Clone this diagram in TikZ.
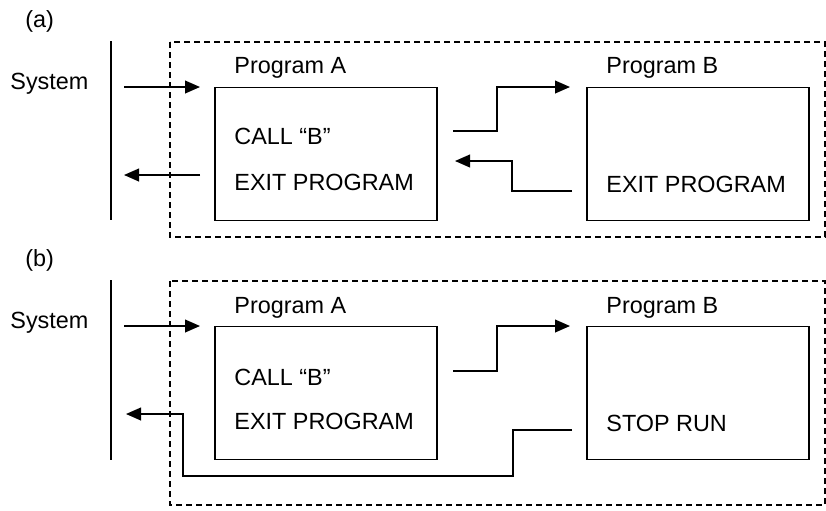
\documentclass[tikz,border=0pt]{standalone}
\usepackage{fontspec}
\setmainfont{Liberation Sans}
\usetikzlibrary{arrows.meta}

\begin{document}
\begin{tikzpicture}[x=0.5pt, y=-0.5pt,
    txt/.style={anchor=base west, inner sep=0pt, font=\fontsize{11.7}{14}\selectfont},
    prog/.style={draw, line width=0.75pt, minimum width=111pt, minimum height=66.5pt, inner sep=0pt},
    flow/.style={line width=0.75pt, -{Triangle[length=7.5pt,width=6.4pt]}},
    sysline/.style={line width=0.8pt},
    frame/.style={line width=0.65pt, dash pattern=on 3.2pt off 1.8pt}]
  \useasboundingbox (0,0) rectangle (826,510);

  % (a) program B returns with EXIT PROGRAM
  \node[txt] (tagA) at (25,27) {(a)};
  \node[txt] (sysA) at (10,89) {System};
  \draw[sysline] (111,41) coordinate (lineAtop) -- (111,220) coordinate (lineAbot);
  \draw[frame] (170,42) rectangle (825,237);
  \node[prog] (progA1) at (326,154) {};
  \node[prog] (progB1) at (698,154) {};
  \node[txt] (nameA1) at (234,73) {Program A};
  \node[txt] (nameB1) at (606,73) {Program B};
  \node[txt] (callA1) at (234,144) {CALL “B”};
  \node[txt] (exitA1) at (234,190) {EXIT PROGRAM};
  \node[txt] (exitB1) at (606,192) {EXIT PROGRAM};
  \coordinate (inA0) at (124,87);    \coordinate (inA1) at (200,87);
  \coordinate (outA0) at (200,175);  \coordinate (outA1) at (124,175);
  \coordinate (goA0) at (453,131);   \coordinate (goA1) at (570,87);
  \coordinate (backA0) at (572,191); \coordinate (backA1) at (455,161);
  \draw[flow] (inA0) -- (inA1);
  \draw[flow] (outA0) -- (outA1);
  \draw[flow] (goA0) -- (497,131) |- (goA1);
  \draw[flow] (backA0) -- (512,191) |- (backA1);

  % (b) program B ends the run with STOP RUN
  \node[txt] (tagB) at (25,266) {(b)};
  \node[txt] (sysB) at (10,328) {System};
  \draw[sysline] (111,280) coordinate (lineBtop) -- (111,460) coordinate (lineBbot);
  \draw[frame] (170,281) rectangle (825,505);
  \node[prog] (progA2) at (326,393) {};
  \node[prog] (progB2) at (698,393) {};
  \node[txt] (nameA2) at (234,313) {Program A};
  \node[txt] (nameB2) at (606,313) {Program B};
  \node[txt] (callA2) at (234,385) {CALL “B”};
  \node[txt] (exitA2) at (234,429) {EXIT PROGRAM};
  \node[txt] (stopB2) at (606,431) {STOP RUN};
  \coordinate (inB0) at (124,326);   \coordinate (inB1) at (200,326);
  \coordinate (goB0) at (453,371);   \coordinate (goB1) at (570,326);
  \coordinate (stopB0) at (572,430); \coordinate (stopB1) at (126,414);
  \draw[flow] (inB0) -- (inB1);
  \draw[flow] (goB0) -- (497,371) |- (goB1);
  \draw[flow] (stopB0) -- (513,430) |- (183,476) |- (stopB1);
\end{tikzpicture}
\end{document}
